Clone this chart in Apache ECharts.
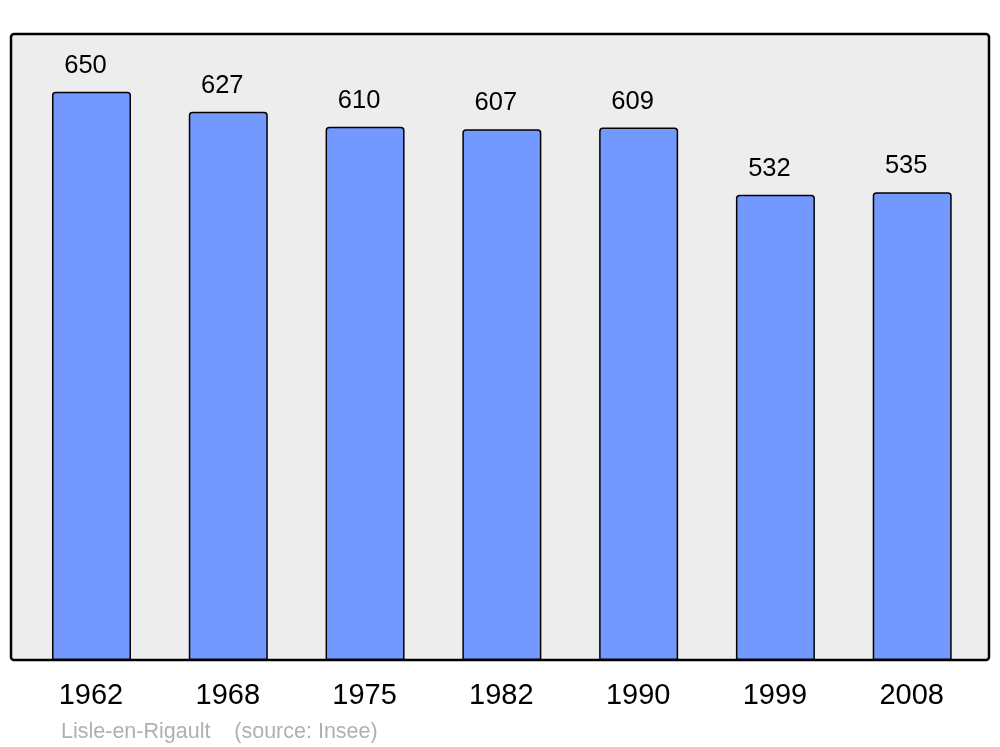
<!DOCTYPE html>
<html>
<head>
<meta charset="utf-8">
<script src="https://cdn.jsdelivr.net/npm/echarts@6/dist/echarts.min.js"></script>
<style>html,body{margin:0;padding:0;background:#fff;}#c{width:1000px;height:747px;}</style>
</head>
<body>
<div id="c"></div>
<script>
var years = ['1962', '1968', '1975', '1982', '1990', '1999', '2008'];
var population = [650, 627, 610, 607, 609, 532, 535];
var footer = 'Lisle-en-Rigault    (source: Insee)';

var chart = echarts.init(document.getElementById('c'), null, {renderer: 'canvas'});
chart.setOption({
  backgroundColor: '#ffffff',
  animation: false,
  title: {
    text: footer,
    left: 56,
    top: 716,
    textStyle: {color: '#b0b0b0', fontSize: 21.5, fontWeight: 'normal', fontFamily: 'Liberation Sans'}
  },
  graphic: [{
    type: 'rect',
    z: -10,
    shape: {x: 11, y: 34, width: 978, height: 626, r: 3},
    style: {fill: '#ededed', stroke: '#000000', lineWidth: 2.5}
  }],
  grid: {left: 23.1, right: 19.4, top: 34, bottom: 87, containLabel: false},
  xAxis: {
    type: 'category',
    data: years,
    axisLine: {show: false},
    axisTick: {show: false},
    axisLabel: {color: '#000', fontSize: 29, margin: 21, fontFamily: 'Liberation Sans', padding: [0, 1, 0, 0]}
  },
  yAxis: {
    type: 'value',
    min: 0,
    max: 716,
    show: false,
    splitLine: {show: false}
  },
  series: [{
    type: 'bar',
    data: population,
    barWidth: 79,
    itemStyle: {color: '#7399ff', borderColor: '#000', borderWidth: 1.5, borderRadius: [3, 3, 0, 0]},
    label: {show: true, position: 'top', distance: 13, offset: [-6, 0], color: '#000', fontSize: 25.5, fontFamily: 'Liberation Sans'}
  }]
});
</script>
</body>
</html>
